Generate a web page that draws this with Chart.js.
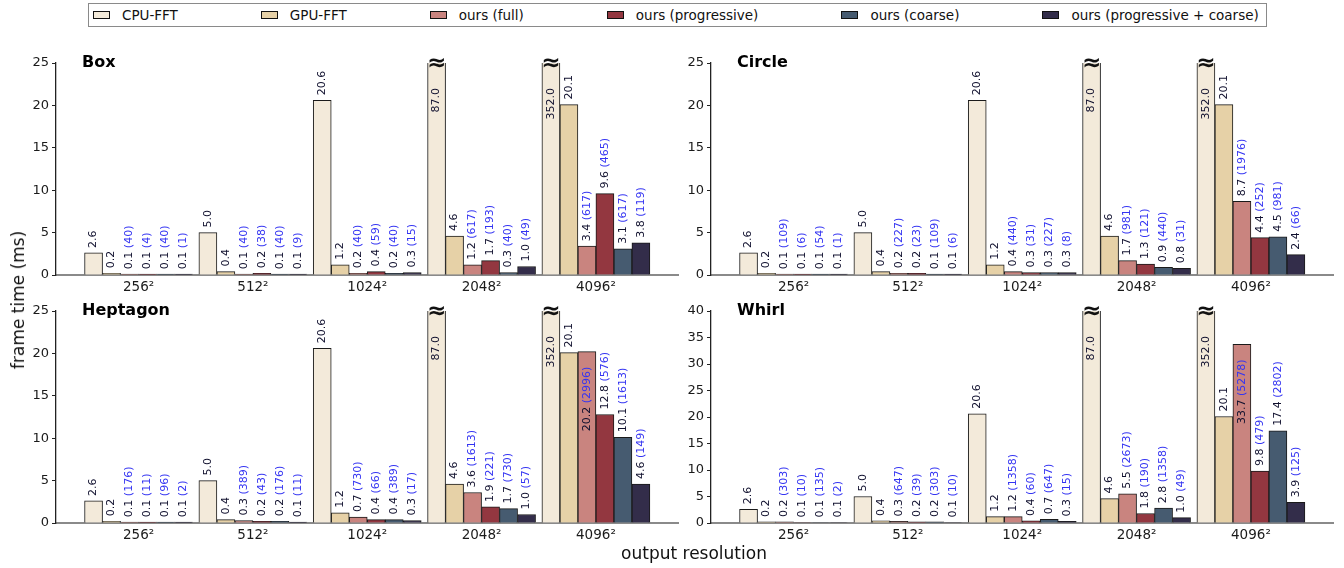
<!DOCTYPE html>
<html>
<head>
<meta charset="utf-8">
<script src="https://cdn.jsdelivr.net/npm/chart.js@4.4.1/dist/chart.umd.min.js"></script>
<style>
body { margin: 0; background: #fff; font-family: 'DejaVu Sans', sans-serif; }
#page { position: relative; width: 1344px; height: 568px; overflow: hidden; }
#page canvas { position: absolute; }
#legend { position: absolute; left: 88px; top: 3px; width: 1173px; height: 22px; padding-left: 4px;
  border: 1px solid #8a8a8a; display: flex; align-items: center; gap: 83px; font-size: 13.5px; color: #111; }
#legend .item { display: flex; align-items: center; white-space: nowrap; }
#legend .sw { width: 15px; height: 6px; border: 1px solid #111; margin-right: 12px; }
.axtitle { position: absolute; font-size: 17px; color: #111; white-space: nowrap; }
</style>
</head>
<body>
<div id="page">
  <div id="legend"></div>
</div>
<script>
/*
Frame time per output resolution for four kernel shapes,
one bar chart per shape, legend and axis titles in plain html
*/

// categories and series
let categories = ['256²', '512²', '1024²', '2048²', '4096²']
let seriesNames = ['CPU-FFT', 'GPU-FFT', 'ours (full)', 'ours (progressive)', 'ours (coarse)', 'ours (progressive + coarse)']
let seriesColors = ['#f3eada', '#e6d1a7', '#c9847f', '#933740', '#465b70', '#332d4a']

// baselines (same in every panel)
let cpuFFT = [2.6, 5.0, 20.6, 87.0, 352.0]
let gpuFFT = [0.2, 0.4, 1.2, 4.6, 20.1]

// Box: times (ms) and counts in brackets
let boxFull = [0.1, 0.1, 0.2, 1.2, 3.4]
let boxFullN = [40, 40, 40, 617, 617]
let boxProg = [0.1, 0.2, 0.4, 1.7, 9.6]
let boxProgN = [4, 38, 59, 193, 465]
let boxCoarse = [0.1, 0.1, 0.2, 0.3, 3.1]
let boxCoarseN = [40, 40, 40, 40, 617]
let boxProgCoarse = [0.1, 0.1, 0.3, 1.0, 3.8]
let boxProgCoarseN = [1, 9, 15, 49, 119]

// Circle
let circleFull = [0.1, 0.2, 0.4, 1.7, 8.7]
let circleFullN = [109, 227, 440, 981, 1976]
let circleProg = [0.1, 0.2, 0.3, 1.3, 4.4]
let circleProgN = [6, 23, 31, 121, 252]
let circleCoarse = [0.1, 0.1, 0.3, 0.9, 4.5]
let circleCoarseN = [54, 109, 227, 440, 981]
let circleProgCoarse = [0.1, 0.1, 0.3, 0.8, 2.4]
let circleProgCoarseN = [1, 6, 8, 31, 66]

// Heptagon
let heptFull = [0.1, 0.3, 0.7, 3.6, 20.2]
let heptFullN = [176, 389, 730, 1613, 2996]
let heptProg = [0.1, 0.2, 0.4, 1.9, 12.8]
let heptProgN = [11, 43, 66, 221, 576]
let heptCoarse = [0.1, 0.2, 0.4, 1.7, 10.1]
let heptCoarseN = [96, 176, 389, 730, 1613]
let heptProgCoarse = [0.1, 0.1, 0.3, 1.0, 4.6]
let heptProgCoarseN = [2, 11, 17, 57, 149]

// Whirl
let whirlFull = [0.2, 0.3, 1.2, 5.5, 33.7]
let whirlFullN = [303, 647, 1358, 2673, 5278]
let whirlProg = [0.1, 0.2, 0.4, 1.8, 9.8]
let whirlProgN = [10, 39, 60, 190, 479]
let whirlCoarse = [0.1, 0.2, 0.7, 2.8, 17.4]
let whirlCoarseN = [135, 303, 647, 1358, 2802]
let whirlProgCoarse = [0.1, 0.1, 0.3, 1.0, 3.9]
let whirlProgCoarseN = [2, 10, 15, 49, 125]

Chart.defaults.font.family = "'DejaVu Sans', sans-serif"

const page = document.querySelector('#page')

/*legend*/
const legend = document.querySelector('#legend')
seriesNames.forEach((name, s) => {
    const item = document.createElement('span')
    item.className = 'item'
    const sw = document.createElement('span')
    sw.className = 'sw'
    sw.style.background = seriesColors[s]
    item.appendChild(sw)
    item.appendChild(document.createTextNode(name))
    legend.appendChild(item)
})

//rotated value labels, break marks and panel title
const barLabels = {
    id: 'barLabels',
    afterDatasetsDraw(chart) {
        const ctx = chart.ctx
        const area = chart.chartArea
        ctx.save()
        ctx.font = "11px 'DejaVu Sans'"
        ctx.textBaseline = 'middle'
        chart.data.datasets.forEach((ds, di) => {
            chart.getDatasetMeta(di).data.forEach((bar, i) => {
                const valText = ds.data[i].y.toFixed(1)
                const cntText = ds.counts ? ' (' + ds.counts[i] + ')' : ''
                const wVal = ctx.measureText(valText).width
                const wAll = wVal + ctx.measureText(cntText).width
                const clipped = bar.y < area.top
                const top = Math.max(bar.y, area.top)
                let start
                if (clipped) start = top + 25 + wAll
                else if (top - 5 - wAll < area.top - 6) start = top + 15 + wAll
                else start = top - 5
                ctx.save()
                ctx.translate(bar.x, start)
                ctx.rotate(-Math.PI / 2)
                ctx.textAlign = 'left'
                ctx.fillStyle = '#10102e'
                ctx.fillText(valText, 0, 0)
                if (cntText) {
                    ctx.fillStyle = '#3434f2'
                    ctx.fillText(cntText, wVal, 0)
                }
                ctx.restore()
                if (clipped) {
                    ctx.save()
                    ctx.font = "bold 23px 'DejaVu Sans'"
                    ctx.textAlign = 'center'
                    ctx.fillStyle = '#111'
                    ctx.fillText('≈', bar.x, area.top + 1)
                    ctx.restore()
                }
            })
        })
        ctx.font = "bold 16px 'DejaVu Sans'"
        ctx.fillStyle = '#000'
        ctx.textAlign = 'left'
        ctx.fillText(chart.options.panelTitle, area.left + 26, area.top)
        ctx.restore()
    }
}

const makePanel = (left, top, title, yMax, ours) => {
    const canvas = document.createElement('canvas')
    canvas.width = 689
    canvas.height = 270
    canvas.style.left = left + 'px'
    canvas.style.top = top + 'px'
    page.insertBefore(canvas, legend)

    const values = [cpuFFT, gpuFFT].concat(ours.map(o => o[0]))
    const counts = [null, null].concat(ours.map(o => o[1]))

    new Chart(canvas, {
        type: 'bar',
        data: {
            datasets: seriesNames.map((name, s) => ({
                label: name,
                data: values[s].map((v, i) => ({ x: i, y: v })),
                counts: counts[s],
                backgroundColor: seriesColors[s],
                borderColor: '#1a1a1a',
                borderWidth: 1,
                barThickness: 18,
                clip: { left: 10, right: 10, top: 0, bottom: 10 }
            }))
        },
        options: {
            panelTitle: title,
            responsive: false,
            animation: false,
            layout: { padding: { top: 23, right: 11, left: 0, bottom: 0 } },
            plugins: { legend: { display: false }, tooltip: { enabled: false } },
            scales: {
                x: {
                    type: 'linear',
                    min: -0.722,
                    max: 4.718,
                    offset: false,
                    afterFit: s => { s.height = 35 },
                    grid: { display: false, drawTicks: false },
                    border: { display: true, color: '#8a8a8a', width: 2 },
                    ticks: {
                        stepSize: 1, includeBounds: false, autoSkip: false, maxRotation: 0,
                        padding: 4, color: '#1a1a1a', font: { size: 13.5 },
                        callback: v => Number.isInteger(v) ? categories[v] : ''
                    }
                },
                y: {
                    min: 0,
                    max: yMax,
                    afterFit: s => { s.width = 56 },
                    grid: { drawOnChartArea: false, tickLength: 4, color: '#222' },
                    border: { color: '#222', width: 1.3 },
                    ticks: { stepSize: 5, padding: 3, color: '#1a1a1a', font: { size: 13 } }
                }
            }
        },
        plugins: [barLabels]
    })
}

makePanel(0, 40, 'Box', 25, [[boxFull, boxFullN], [boxProg, boxProgN], [boxCoarse, boxCoarseN], [boxProgCoarse, boxProgCoarseN]])
makePanel(655, 40, 'Circle', 25, [[circleFull, circleFullN], [circleProg, circleProgN], [circleCoarse, circleCoarseN], [circleProgCoarse, circleProgCoarseN]])
makePanel(0, 288, 'Heptagon', 25, [[heptFull, heptFullN], [heptProg, heptProgN], [heptCoarse, heptCoarseN], [heptProgCoarse, heptProgCoarseN]])
makePanel(655, 288, 'Whirl', 40, [[whirlFull, whirlFullN], [whirlProg, whirlProgN], [whirlCoarse, whirlCoarseN], [whirlProgCoarse, whirlProgCoarseN]])

/*axis titles*/
const yTitle = document.createElement('div')
yTitle.className = 'axtitle'
yTitle.textContent = 'frame time (ms)'
yTitle.style.left = '18px'
yTitle.style.top = '300px'
yTitle.style.transform = 'translate(-50%, -50%) rotate(-90deg)'
page.appendChild(yTitle)

const xTitle = document.createElement('div')
xTitle.className = 'axtitle'
xTitle.textContent = 'output resolution'
xTitle.style.left = '694px'
xTitle.style.top = '553px'
xTitle.style.transform = 'translate(-50%, -50%)'
page.appendChild(xTitle)
</script>
</body>
</html>
